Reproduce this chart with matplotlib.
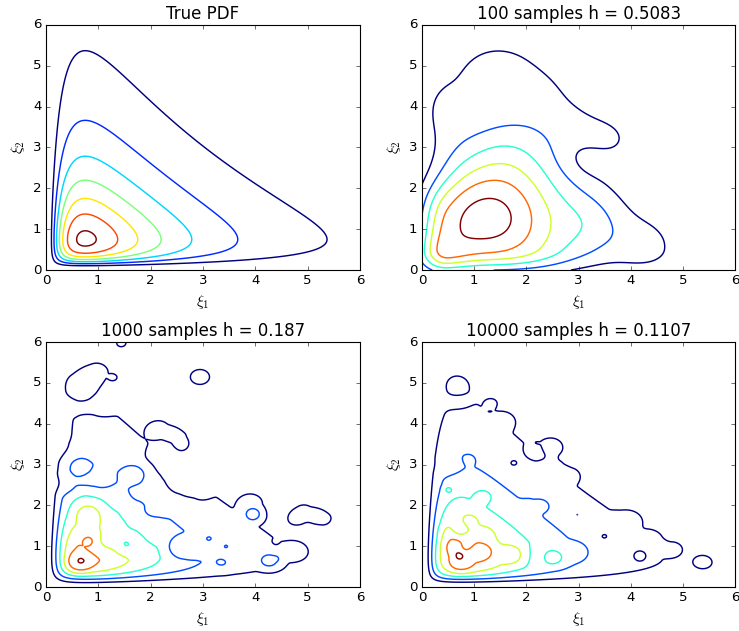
"""Contour plots of a log-normal density and its kernel density estimates."""

import numpy as np
import matplotlib

matplotlib.use("Agg")
import matplotlib.pyplot as plt

# true density: product of two log-normals
mode = 0.75
log_sigma = 0.99

titles = ["True PDF", "100 samples h = 0.5083", "1000 samples h = 0.187", "10000 samples h = 0.1107"]
bandwidths = [0.5083, 0.187, 0.1107]
true_level_step = 0.015
kde_level_step = 0.02
n_true_levels = 7
n_kde_levels = 6
ticks = [0, 1, 2, 3, 4, 5, 6]

# 100 samples: sample intensity as a few clusters (x, y, sx, sy, peak density)
clusters_100 = [
    (1.2, 1.2, 1.15, 1.05, 0.132),
    (2.3, 0.3, 0.5, 0.4, 0.012),
    (1.7, 3.0, 0.7, 0.8, 0.035),
    (1.45, 4.85, 0.55, 0.5, 0.035),
    (2.3, 4.3, 0.35, 0.4, 0.02),
    (0.4, 4.0, 0.3, 0.5, 0.024),
    (2.9, 3.6, 0.4, 0.4, 0.02),
    (3.55, 3.2, 0.3, 0.3, 0.03),
    (3.3, 1.1, 0.45, 0.6, 0.03),
    (4.3, 0.55, 0.4, 0.5, 0.03),
    (0.25, 0.25, 0.35, 0.35, 0.055),
    (0.0, 2.3, 0.35, 0.5, -0.03),
    (3.2, 2.75, 0.25, 0.2, -0.02),
]

# 1000 / 10000 samples: local excess (+) or lack (-) of samples
# against the expected estimate: (x, y, radius, density)
bumps_1000 = [
    (0.62, 0.58, 0.3, 0.018), (0.95, 0.95, 0.3, -0.008), (1.3, 1.15, 0.4, -0.016),
    (1.55, 0.95, 0.25, -0.012), (0.82, 1.85, 0.35, 0.016), (0.84, 1.13, 0.15, 0.010),
    (2.55, 0.95, 0.35, -0.020), (2.85, 0.9, 0.25, -0.014), (2.1, 1.9, 0.3, -0.006),
    (1.75, 2.25, 0.25, -0.005), (1.7, 2.8, 0.35, 0.014), (1.0, 2.6, 0.35, -0.014),
    (0.45, 2.5, 0.3, -0.012), (0.75, 2.6, 0.2, -0.006), (0.65, 2.95, 0.22, 0.010),
    (1.75, 1.65, 0.35, -0.006), (2.05, 1.3, 0.3, -0.005), (2.55, 2.4, 0.3, -0.008),
    (2.9, 2.3, 0.3, -0.006), (3.13, 1.2, 0.12, 0.0065), (3.45, 1.0, 0.12, 0.009),
    (3.4, 0.56, 0.25, 0.0082), (3.96, 1.77, 0.25, 0.028), (3.95, 2.1, 0.35, 0.008),
    (4.28, 0.64, 0.3, 0.023), (4.45, 0.72, 0.12, 0.004), (4.38, 1.1, 0.1, -0.0015),
    (4.95, 1.85, 0.35, 0.012), (5.3, 1.7, 0.3, 0.013), (4.75, 1.65, 0.25, 0.006),
    (2.95, 5.15, 0.32, 0.021), (0.6, 4.95, 0.45, 0.009), (1.0, 5.3, 0.4, 0.008),
    (1.3, 5.13, 0.12, 0.0065), (1.45, 5.98, 0.25, 0.012), (1.0, 4.4, 0.35, -0.005),
    (0.5, 4.35, 0.35, -0.005), (0.35, 3.45, 0.35, -0.008), (0.3, 3.85, 0.3, -0.009),
    (2.2, 3.9, 0.35, 0.008), (2.55, 3.7, 0.3, 0.009), (2.62, 3.45, 0.2, 0.006),
    (2.45, 2.75, 0.4, -0.010), (2.15, 3.15, 0.35, -0.008), (4.8, 0.9, 0.35, 0.005),
]
bumps_10000 = [
    (0.71, 0.78, 0.15, 0.015), (1.2, 0.9, 0.3, 0.012), (0.85, 1.0, 0.2, -0.007),
    (0.55, 1.05, 0.25, 0.008), (0.75, 0.5, 0.25, 0.009), (0.75, 1.35, 0.22, -0.014),
    (0.68, 1.55, 0.2, -0.008), (0.45, 1.35, 0.2, 0.004), (0.93, 1.65, 0.2, 0.010),
    (1.25, 1.35, 0.25, 0.006), (1.75, 0.8, 0.3, 0.015), (2.15, 0.75, 0.3, -0.006),
    (1.2, 2.25, 0.25, 0.013), (0.49, 2.39, 0.12, 0.013), (2.55, 0.72, 0.28, 0.016),
    (0.55, 2.95, 0.3, -0.008), (0.9, 3.15, 0.2, 0.006), (2.2, 2.15, 0.3, 0.005),
    (2.4, 2.0, 0.25, 0.006), (3.0, 0.9, 0.3, 0.005), (0.7, 4.5, 0.3, -0.003),
    (0.64, 4.97, 0.35, 0.006), (1.35, 4.52, 0.2, 0.004), (1.2, 3.8, 0.1, -0.005),
    (2.17, 3.52, 0.1, 0.003), (1.75, 3.03, 0.12, -0.010), (2.5, 3.45, 0.3, 0.010),
    (2.5, 2.9, 0.3, 0.007), (2.97, 1.76, 0.1, -0.0085), (3.48, 1.23, 0.15, -0.0095),
    (4.13, 0.76, 0.22, -0.006), (4.49, 0.89, 0.08, -0.001), (5.4, 0.58, 0.3, 0.009),
    (4.85, 0.95, 0.3, 0.004), (3.9, 1.6, 0.35, 0.005), (4.4, 1.2, 0.3, 0.004),
    (1.6, 4.1, 0.3, 0.005), (2.15, 3.3, 0.25, -0.006), (2.85, 2.75, 0.25, 0.006),
    (4.0, 1.65, 0.25, 0.005),
]

step = 0.025
grid = np.arange(0, 6 + step / 2, step)
n_grid = len(grid)
X, Y = np.meshgrid(grid, grid)
bump_reach = 1.3  # biweight bumps reach a bit past their nominal radius


def lognormal_pdf(t):
    out = np.zeros_like(t)
    pos = t > 0
    mu = np.log(mode) + log_sigma**2
    out[pos] = np.exp(-(np.log(t[pos]) - mu) ** 2 / (2 * log_sigma**2)) / (
        t[pos] * log_sigma * np.sqrt(2 * np.pi)
    )
    return out


def true_pdf(x, y):
    return lognormal_pdf(x) * lognormal_pdf(y)


def cluster_intensity(x, y):
    dens = np.zeros_like(x)
    for cx, cy, sx, sy, peak in clusters_100:
        dens += peak * np.exp(-((x - cx) ** 2 / (2 * sx**2) + (y - cy) ** 2 / (2 * sy**2)))
    return np.clip(dens, 0, None) * (x > 0) * (y > 0)


def smooth(field, h):
    """Epanechnikov kernel smoothing of field(x, y) on the plotting grid."""
    r = int(np.ceil(h / step))
    ext = np.arange(-r, n_grid + r) * step
    ex, ey = np.meshgrid(ext, ext)
    values = field(ex, ey)
    offs = np.arange(-r, r + 1) * step
    kx, ky = np.meshgrid(offs, offs)
    kernel = np.clip(1 - (kx**2 + ky**2) / h**2, 0, None)
    kernel /= kernel.sum()
    out = np.zeros((n_grid, n_grid))
    for i in range(2 * r + 1):
        for j in range(2 * r + 1):
            if kernel[i, j] > 0:
                out += kernel[i, j] * values[i:i + n_grid, j:j + n_grid]
    return out


def add_bumps(z, bumps):
    for bx, by, rad, amp in bumps:
        reach = (rad * bump_reach) ** 2
        z = z + amp * np.clip(1 - ((X - bx) ** 2 + (Y - by) ** 2) / reach, 0, None) ** 2
    return z


plt.style.use("classic")
plt.rcParams["mathtext.fontset"] = "cm"

fields = [
    true_pdf(X, Y),
    smooth(cluster_intensity, bandwidths[0]),
    add_bumps(smooth(true_pdf, bandwidths[1]), bumps_1000),
    add_bumps(smooth(true_pdf, bandwidths[2]), bumps_10000),
]
level_sets = [
    true_level_step * np.arange(1, n_true_levels + 1),
    kde_level_step * np.arange(1, n_kde_levels + 1),
    kde_level_step * np.arange(1, n_kde_levels + 1),
    kde_level_step * np.arange(1, n_kde_levels + 1),
]

fig = plt.figure(figsize=(739 / 80, 631 / 80), dpi=80, facecolor="white")
positions = [
    (0.0622, 0.5721, 0.4249, 0.3883),
    (0.5710, 0.5721, 0.4240, 0.3883),
    (0.0622, 0.0697, 0.4249, 0.3883),
    (0.5710, 0.0697, 0.4240, 0.3883),
]
jet = plt.get_cmap("jet")

for pos, title, z, levels in zip(positions, titles, fields, level_sets):
    ax = fig.add_axes(pos)
    colors = jet(np.linspace(0, 1, len(levels)))
    ax.contour(grid, grid, z, levels=levels, colors=colors, linewidths=1.3)
    ax.set_xlim(0, 6)
    ax.set_ylim(0, 6)
    ax.set_xticks(ticks)
    ax.set_yticks(ticks)
    ax.set_title(title, fontsize=15)
    ax.set_xlabel(r"$\xi_1$", fontsize=14)
    ax.set_ylabel(r"$\xi_2$", fontsize=14)

fig.savefig("out.png", dpi=80, facecolor="white")
